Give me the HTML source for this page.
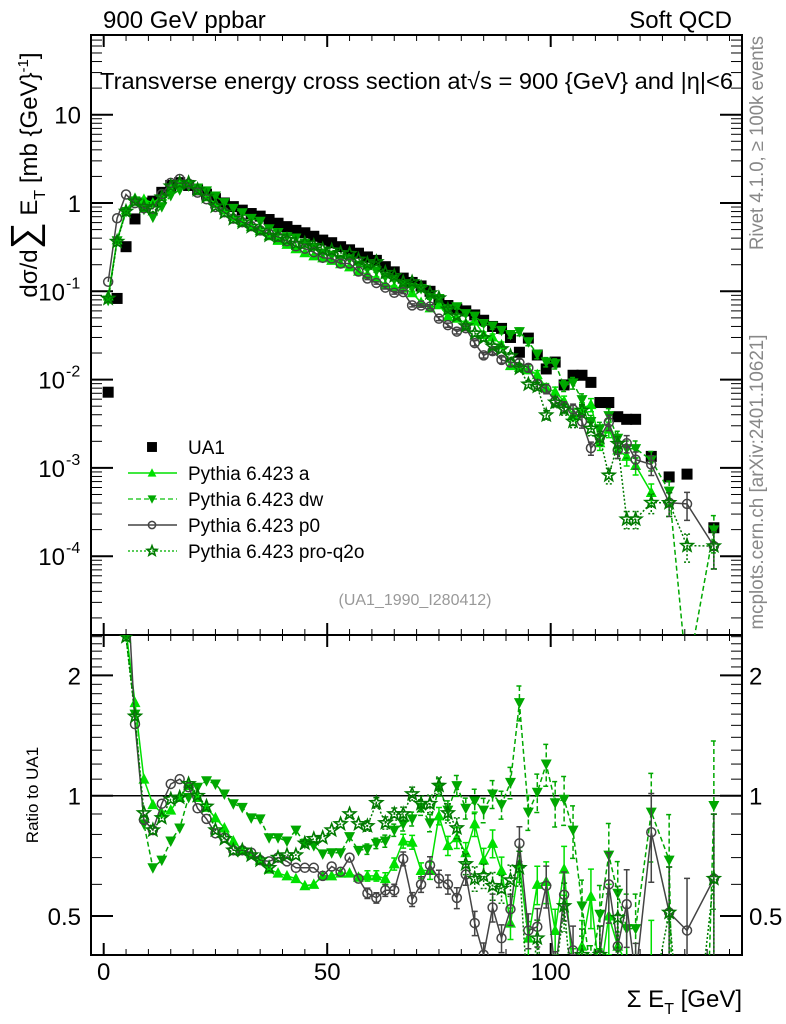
<!DOCTYPE html>
<html><head><meta charset="utf-8">
<style>
html,body{margin:0;padding:0;background:#fff;overflow:hidden;width:786px;height:1024px;}
svg{display:block;font-family:"Liberation Sans",Arial,sans-serif;overflow:hidden;}
</style></head>
<body>
<svg id="chart" width="786" height="1024" viewBox="0 0 786 1024" xmlns="http://www.w3.org/2000/svg">
<defs>
<clipPath id="clipMain"><rect x="91" y="35" width="651" height="600"/></clipPath>
<clipPath id="clipRatio"><rect x="91" y="635" width="651" height="320"/></clipPath>
</defs>
<rect x="0" y="0" width="786" height="1024" fill="#fff"/>
<text x="103" y="28" font-size="24">900 GeV ppbar</text>
<text x="732" y="28" font-size="24" text-anchor="end">Soft QCD</text>
<text x="100" y="89" font-size="23" textLength="633" lengthAdjust="spacingAndGlyphs">Transverse energy cross section at√s = 900 {GeV} and |η|&lt;6</text>
<text transform="translate(37,175) rotate(-90)" font-size="24" text-anchor="middle">dσ/d<tspan font-size="38">∑</tspan> E<tspan font-size="16" dy="8">T</tspan><tspan dy="-8"> [mb {GeV}</tspan><tspan font-size="15" dy="-9">-1</tspan><tspan dy="9">]</tspan></text>
<text transform="translate(763,143) rotate(-90)" font-size="19" fill="#888" text-anchor="middle" textLength="214" lengthAdjust="spacingAndGlyphs">Rivet 4.1.0, ≥ 100k events</text>
<text transform="translate(763,482) rotate(-90)" font-size="19" fill="#888" text-anchor="middle" textLength="295" lengthAdjust="spacingAndGlyphs">mcplots.cern.ch [arXiv:2401.10621]</text>
<text x="415" y="605" font-size="16" fill="#999" text-anchor="middle">(UA1_1990_I280412)</text>
<text transform="translate(38,795) rotate(-90)" font-size="17" text-anchor="middle">Ratio to UA1</text>
<text x="742" y="1007" font-size="24" text-anchor="end">Σ E<tspan font-size="16" dy="7">T</tspan><tspan dy="-7"> [GeV]</tspan></text>
<g id="axes"></g>
<g id="mainMarks" clip-path="url(#clipMain)"></g>
<g id="ratioMarks" clip-path="url(#clipRatio)"></g>
<g id="legend"></g>
</svg>
<script>
const xs = [1,3,5,7,9,11,13,15,17,19,21,23,25,27,29,31,33,35,37,39,41,43,45,47,49,51,53,55,57,59,61,63,65,67,69,71,73,75,77,79,81,83,85,87,89,91,93,95,97,99,101,103,105,107,109,111,113,115,117,119,122.5,126.5,130.5,136.5];
const ua1 = [0.0072,0.083,0.32,0.66,1.0,1.05,1.32,1.58,1.7,1.58,1.41,1.26,1.12,1.0,0.91,0.83,0.76,0.71,0.65,0.59,0.54,0.49,0.46,0.42,0.38,0.355,0.32,0.295,0.27,0.245,0.224,0.19,0.166,0.141,0.126,0.115,0.1,0.079,0.069,0.063,0.060,0.054,0.047,0.040,0.038,0.030,0.0204,0.0295,0.019,0.0132,0.0158,0.0087,0.0112,0.0112,0.0093,0.0055,0.0055,0.0038,0.00355,0.00355,0.00135,0.00079,0.00085,0.00021];
const ratioA = [12.3,4.6,2.6,1.71,1.1,0.95,0.905,0.92,0.99,1.06,0.99,0.935,0.88,0.83,0.77,0.73,0.715,0.69,0.655,0.64,0.63,0.62,0.595,0.60,0.63,0.63,0.64,0.64,0.625,0.63,0.63,0.62,0.675,0.77,0.765,0.65,0.65,0.89,0.75,0.785,0.72,0.85,0.69,0.76,0.65,0.48,0.675,0.44,0.60,0.61,0.46,0.655,0.36,0.42,0.56,0.35,0.5,0.42,0.38,0.3,0.39,null,null,null];
const ratioDW = [11,4.5,2.5,1.6,0.85,0.66,0.69,0.77,0.83,0.99,1.05,1.09,1.07,1.01,0.955,0.935,0.88,0.875,0.785,0.785,0.77,0.82,0.76,0.75,0.715,0.72,0.72,0.79,0.73,0.735,0.76,0.77,0.82,0.85,0.875,0.935,0.855,1.05,0.92,1.06,0.93,0.97,0.92,1.01,0.95,1.08,1.71,0.91,1.02,1.2,0.96,0.98,0.82,0.53,0.36,0.505,0.71,0.57,0.465,0.465,0.91,0.69,0.005,0.945];
const ratioP0 = [17.8,8.1,3.9,1.51,0.87,0.82,0.955,1.07,1.1,1.05,0.93,0.875,0.805,0.785,0.73,0.73,0.72,0.69,0.685,0.70,0.685,0.66,0.66,0.66,0.63,0.665,0.645,0.70,0.62,0.57,0.555,0.58,0.58,0.695,0.55,0.6,0.67,0.62,0.6,0.555,0.635,0.48,0.40,0.525,0.44,0.52,0.76,0.46,0.47,0.595,0.36,0.565,0.41,0.3,0.18,0.40,0.6,0.42,0.535,0.35,0.81,0.51,0.46,0.62];
const ratioQ2O = [11.5,4.4,2.5,1.58,0.905,0.82,0.88,0.98,0.99,1.07,1.0,0.94,0.82,0.78,0.73,0.73,0.71,0.69,0.66,0.70,0.71,0.71,0.76,0.78,0.785,0.82,0.85,0.90,0.85,0.84,0.96,0.855,0.90,0.90,1.01,0.955,0.955,1.06,0.905,0.83,0.675,0.62,0.63,0.595,0.585,0.615,0.66,0.3,0.44,0.3,0.35,0.53,0.3,0.40,0.3,0.40,0.15,0.495,0.074,0.074,0.3,0.51,0.155,0.62];
const relErr = [0.02,0.01,0.01,0.01,0.01,0.01,0.01,0.01,0.01,0.01,0.01,0.01,0.01,0.01,0.01,0.01,0.01,0.01,0.01,0.01,0.015,0.015,0.015,0.02,0.02,0.02,0.02,0.025,0.025,0.03,0.03,0.035,0.035,0.04,0.04,0.045,0.05,0.05,0.055,0.06,0.06,0.07,0.07,0.08,0.08,0.09,0.1,0.1,0.11,0.12,0.13,0.14,0.15,0.16,0.17,0.18,0.2,0.2,0.22,0.22,0.25,0.3,0.35,0.45];
const xTicks = [0,50,100];
const mainTickLabels = ["10","1","10","10","10","10"];
const mainTickExps = [null,null,"-1","-2","-3","-4"];
const mainTickDecades = [1,0,-1,-2,-3,-4];
const ratioTicks = [0.5,1,2];
const ratioTickLabels = ["0.5","1","2"];

const NS = "http://www.w3.org/2000/svg";
const X = v => 103.7 + 4.47*v;
const YM = v => 203 - 88.3*Math.log10(v);
const YR = r => 795.7 - 399.6*Math.log10(r);
function mk(tag, attrs, parent){const e=document.createElementNS(NS,tag);for(const k in attrs)e.setAttribute(k,attrs[k]);parent.appendChild(e);return e;}
const axes=document.getElementById('axes');
const gM=document.getElementById('mainMarks');
const gR=document.getElementById('ratioMarks');
const gL=document.getElementById('legend');

let f1=mk('rect',{x:91,y:35,width:651,height:600,fill:'none',stroke:'#000','stroke-width':2},axes);


let f2=mk('rect',{x:91,y:635,width:651,height:320,fill:'none',stroke:'#000','stroke-width':2},axes);


for(let v=0; v<=140; v+=5){
  const maj = v%50===0; const L = maj?12:6; const x=X(v);
  for(const [y0,dir] of [[635,-1],[35,1],[955,-1],[635,1]]){
    const t=mk('line',{x1:x,x2:x,y1:y0,y2:y0+dir*L,stroke:'#000','stroke-width':maj?2:1},axes);
    
    
  }
}
xTicks.forEach(v=>{
  const t=mk('text',{x:X(v),y:980,'font-size':24,'text-anchor':'middle'},axes);
  t.textContent=String(v);
  
  
});
for(let d=-5; d<=1; d++){
  for(let m=1;m<=9;m++){
    const v=m*Math.pow(10,d); const y=YM(v);
    if(y<35||y>635) continue;
    const L = m===1?22:11;
    const a=mk('line',{x1:91,x2:91+L,y1:y,y2:y,stroke:'#000','stroke-width':m===1?2:1},axes);
    
    
    const b=mk('line',{x1:742,x2:742-L,y1:y,y2:y,stroke:'#000','stroke-width':m===1?2:1},axes);
    
    
  }
}
mainTickDecades.forEach((d,i)=>{
  const y=YM(Math.pow(10,d));
  const t=mk('text',{x:mainTickExps[i]?65:81,y:y+9,'font-size':24,'text-anchor':'end'},axes);
  t.textContent=mainTickLabels[i];
  
  
  if(mainTickExps[i]){
    const s=mk('text',{x:66,y:y-3,'font-size':16,'text-anchor':'start'},axes);
    s.textContent=mainTickExps[i];
    
    
  }
});
for(let k=4;k<=25;k++){
  const r=k/10; const y=YR(r);
  const maj = (k===5||k===10||k===20); const L=maj?22:11;
  const a=mk('line',{x1:91,x2:91+L,y1:y,y2:y,stroke:'#000','stroke-width':maj?2:1},axes);
  
  
  const b=mk('line',{x1:742,x2:742-L,y1:y,y2:y,stroke:'#000','stroke-width':maj?2:1},axes);
  
  
}
ratioTicks.forEach((r,i)=>{
  const y=YR(r);
  const a=mk('text',{x:81,y:y+9,'font-size':24,'text-anchor':'end'},axes);
  a.textContent=ratioTickLabels[i];
  
  
  const b=mk('text',{x:749,y:y+9,'font-size':24,'text-anchor':'start'},axes);
  b.textContent=ratioTickLabels[i];
  
  
});
const one=mk('line',{x1:91,x2:742,y1:YR(1),y2:YR(1),stroke:'#000','stroke-width':1.5},axes);



function starPts(cx,cy,R){let p=[];for(let i=0;i<10;i++){const r=i%2?R*0.42:R;const a=-Math.PI/2+i*Math.PI/5;p.push((cx+r*Math.cos(a)).toFixed(1)+','+(cy+r*Math.sin(a)).toFixed(1));}return p.join(' ');}
function marker(type,cx,cy,color,parent,s){
  s=s||1; let e;
  if(type==='square') e=mk('rect',{x:cx-5.5*s,y:cy-5.5*s,width:11*s,height:11*s,fill:color},parent);
  else if(type==='up') e=mk('polygon',{points:`${cx},${cy-6*s} ${cx-5.5*s},${cy+4.5*s} ${cx+5.5*s},${cy+4.5*s}`,fill:color},parent);
  else if(type==='down') e=mk('polygon',{points:`${cx},${cy+6*s} ${cx-5.5*s},${cy-4.5*s} ${cx+5.5*s},${cy-4.5*s}`,fill:color},parent);
  else if(type==='circle') e=mk('circle',{cx:cx,cy:cy,r:4.5*s,fill:'none',stroke:color,'stroke-width':1.5},parent);
  else e=mk('polygon',{points:starPts(cx,cy,6.5*s),fill:'none',stroke:color,'stroke-width':1.6},parent);
  return e;
}
const series=[
  {key:'a',ratio:ratioA,color:'#00e000',type:'up',dash:'',name:'Pythia 6.423 a',lw:1.5},
  {key:'dw',ratio:ratioDW,color:'#00a800',type:'down',dash:'5,3',name:'Pythia 6.423 dw',lw:1.5},
  {key:'p0',ratio:ratioP0,color:'#444444',type:'circle',dash:'',name:'Pythia 6.423 p0',lw:1.5},
  {key:'q2o',ratio:ratioQ2O,color:'#007a00',type:'star',dash:'2,2',name:'Pythia 6.423 pro-q2o',lw:1.5}
];
xs.forEach((x,i)=>{
  const m=marker('square',X(x),YM(ua1[i]),'#000',gM);
  
  
});
series.forEach(s=>{
  let ptsM=[],ptsR=[];
  xs.forEach((x,i)=>{
    const r=s.ratio[i]; if(r==null) return;
    const v=ua1[i]*r;
    ptsM.push([X(x),YM(v),v,r,relErr[i]]);
    ptsR.push([X(x),YR(r)]);
  });
  const lm=mk('polyline',{points:ptsM.map(p=>p[0].toFixed(1)+','+p[1].toFixed(1)).join(' '),fill:'none',stroke:s.color,'stroke-width':s.lw,'stroke-dasharray':s.dash},gM);
  
  
  const lr=mk('polyline',{points:ptsR.map(p=>p[0].toFixed(1)+','+p[1].toFixed(1)).join(' '),fill:'none',stroke:s.color,'stroke-width':s.lw,'stroke-dasharray':s.dash},gR);
  
  
  ptsM.forEach(p=>{
    const [cx,cy,v,r,e]=p;
    if(e>=0.03){
      const lo=Math.max(v*(1-e),1e-9);
      const eb=mk('path',{d:`M${cx},${YM(v*(1+e))}V${YM(lo)}M${cx-3},${YM(v*(1+e))}h6M${cx-3},${YM(lo)}h6`,stroke:s.color,'stroke-width':1.5,fill:'none','stroke-dasharray':s.dash},gM);
      
      
      const ry1=YR(r*(1+e)), ry2=YR(Math.max(r*(1-e),1e-6));
      const er=mk('path',{d:`M${cx},${ry1}V${ry2}M${cx-3},${ry1}h6M${cx-3},${ry2}h6`,stroke:s.color,'stroke-width':1.5,fill:'none','stroke-dasharray':s.dash},gR);
      
      
    }
    const m1=marker(s.type,cx,cy,s.color,gM);
    
    
    const m2=marker(s.type,cx,YR(r),s.color,gR);
    
    
  });
});
const ly0=447, ldy=26;
const lu=marker('square',152,ly0,'#000',gL,0.9);


const lut=mk('text',{x:188,y:ly0+7,'font-size':19},gL);
lut.textContent='UA1';


series.forEach((s,i)=>{
  const y=ly0+ldy*(i+1);
  const ln=mk('line',{x1:128,x2:177,y1:y,y2:y,stroke:s.key==='dw'?'#33cc33':(s.key==='q2o'?'#22bb22':s.color),'stroke-width':1.5,'stroke-dasharray':s.dash},gL);
  
  
  const m=marker(s.type,152,y,s.color,gL,0.8);
  
  
  const t=mk('text',{x:188,y:y+7,'font-size':19},gL);
  t.textContent=s.name;
  
  
});
</script>
</body></html>
